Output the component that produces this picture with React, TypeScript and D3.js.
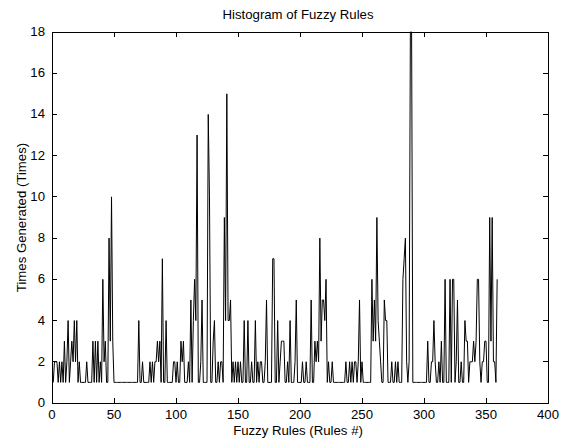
import * as d3 from 'd3';

// times each fuzzy rule (1..359) was generated
const ruleCounts = [
  1, 2, 2, 2, 1, 2, 1, 2, 1, 3,
  1, 2, 4, 1, 2, 3, 2, 4, 2, 4,
  1, 2, 1, 1, 1, 1, 1, 2, 1, 1,
  1, 1, 3, 1, 3, 1, 3, 1, 2, 1,
  6, 2, 3, 1, 1, 8, 3, 10, 3, 1,
  1, 1, 1, 1, 1, 1, 1, 1, 1, 1,
  1, 1, 1, 1, 1, 1, 1, 1, 1, 4,
  1, 1, 2, 1, 1, 1, 1, 1, 2, 1,
  2, 1, 2, 2, 3, 2, 3, 1, 7, 1,
  1, 4, 1, 1, 1, 1, 1, 2, 2, 1,
  2, 1, 1, 3, 2, 3, 1, 1, 1, 2,
  1, 5, 1, 4, 6, 4, 13, 1, 1, 2,
  5, 1, 1, 1, 1, 14, 10, 1, 1, 3,
  4, 1, 1, 2, 1, 2, 2, 1, 9, 4,
  15, 4, 4, 5, 1, 2, 1, 2, 1, 2,
  1, 2, 1, 1, 4, 1, 1, 4, 1, 1,
  2, 1, 1, 4, 1, 2, 1, 2, 2, 1,
  1, 2, 5, 1, 1, 1, 1, 7, 7, 1,
  1, 4, 1, 2, 3, 3, 3, 1, 1, 2,
  1, 4, 1, 1, 1, 2, 5, 1, 1, 1,
  1, 2, 1, 1, 2, 1, 1, 1, 5, 1,
  1, 3, 2, 3, 2, 8, 3, 5, 5, 4,
  6, 1, 2, 1, 1, 2, 1, 1, 1, 1,
  1, 1, 1, 1, 1, 1, 2, 1, 1, 2,
  1, 2, 1, 2, 2, 1, 2, 5, 1, 2,
  1, 1, 1, 1, 1, 1, 1, 6, 3, 5,
  3, 9, 4, 3, 2, 1, 1, 5, 4, 4,
  1, 1, 1, 2, 1, 1, 2, 1, 2, 1,
  1, 1, 6, 7, 8, 2, 1, 2, 18, 18,
  1, 1, 1, 1, 1, 1, 1, 1, 1, 1,
  1, 1, 3, 1, 1, 2, 2, 4, 2, 1,
  1, 2, 1, 3, 1, 1, 6, 1, 1, 1,
  6, 1, 6, 6, 1, 2, 5, 1, 1, 2,
  1, 1, 4, 3, 3, 1, 2, 2, 2, 3,
  2, 3, 6, 6, 2, 1, 2, 2, 3, 3,
  1, 1, 9, 3, 9, 2, 2, 1, 6,
];

const xTicks = [0, 50, 100, 150, 200, 250, 300, 350, 400];
const yTicks = [0, 2, 4, 6, 8, 10, 12, 14, 16, 18];

export default function App() {
  const width = 564;
  const height = 443;
  const left = 52;
  const right = 548;
  const top = 32;
  const bottom = 403;
  const tick = 5;
  const font = '"Liberation Sans", Arial, sans-serif';
  const fs = 13.2;

  const x = d3.scaleLinear().domain([0, 400]).range([left, right]);
  const y = d3.scaleLinear().domain([0, 18]).range([bottom, top]);

  const line = d3
    .line<number>()
    .x((_, i) => x(i + 1))
    .y((d) => y(d));

  return (
    <div style={{ position: 'absolute', left: 0, top: 0 }}>
      <svg width={width} height={height} style={{ display: 'block', background: '#fff' }}>
        <rect x={0} y={0} width={width} height={height} fill="#fff" />

        {/* data line */}
        <path d={line(ruleCounts) || ''} fill="none" stroke="#000" strokeWidth={1} />

        {/* box */}
        <rect
          x={left}
          y={top}
          width={right - left}
          height={bottom - top}
          fill="none"
          stroke="#000"
          strokeWidth={1}
          shapeRendering="crispEdges"
        />

        {/* x ticks, inward on top and bottom */}
        {xTicks.map((t) => (
          <g key={'x' + t} shapeRendering="crispEdges">
            <line x1={x(t)} x2={x(t)} y1={bottom} y2={bottom - tick} stroke="#000" />
            <line x1={x(t)} x2={x(t)} y1={top} y2={top + tick} stroke="#000" />
            <text
              x={x(t)}
              y={bottom + 16}
              textAnchor="middle"
              fontFamily={font}
              fontSize={fs}
              fill="#000"
            >
              {t}
            </text>
          </g>
        ))}

        {/* y ticks, inward on left and right */}
        {yTicks.map((t) => (
          <g key={'y' + t} shapeRendering="crispEdges">
            <line x1={left} x2={left + tick} y1={y(t)} y2={y(t)} stroke="#000" />
            <line x1={right} x2={right - tick} y1={y(t)} y2={y(t)} stroke="#000" />
            <text
              x={left - 7}
              y={y(t)}
              dy="0.3em"
              textAnchor="end"
              fontFamily={font}
              fontSize={fs}
              fill="#000"
            >
              {t}
            </text>
          </g>
        ))}

        <text
          x={(left + right) / 2 - 2}
          y={19}
          textAnchor="middle"
          fontFamily={font}
          fontSize={fs}
          fill="#000"
        >
          Histogram of Fuzzy Rules
        </text>
        <text
          x={(left + right) / 2 - 2}
          y={435}
          textAnchor="middle"
          fontFamily={font}
          fontSize={fs}
          fill="#000"
        >
          Fuzzy Rules (Rules #)
        </text>
        <text
          transform={`translate(26,${(top + bottom) / 2}) rotate(-90)`}
          textAnchor="middle"
          fontFamily={font}
          fontSize={fs}
          fill="#000"
        >
          Times Generated (Times)
        </text>
      </svg>
    </div>
  );
}
